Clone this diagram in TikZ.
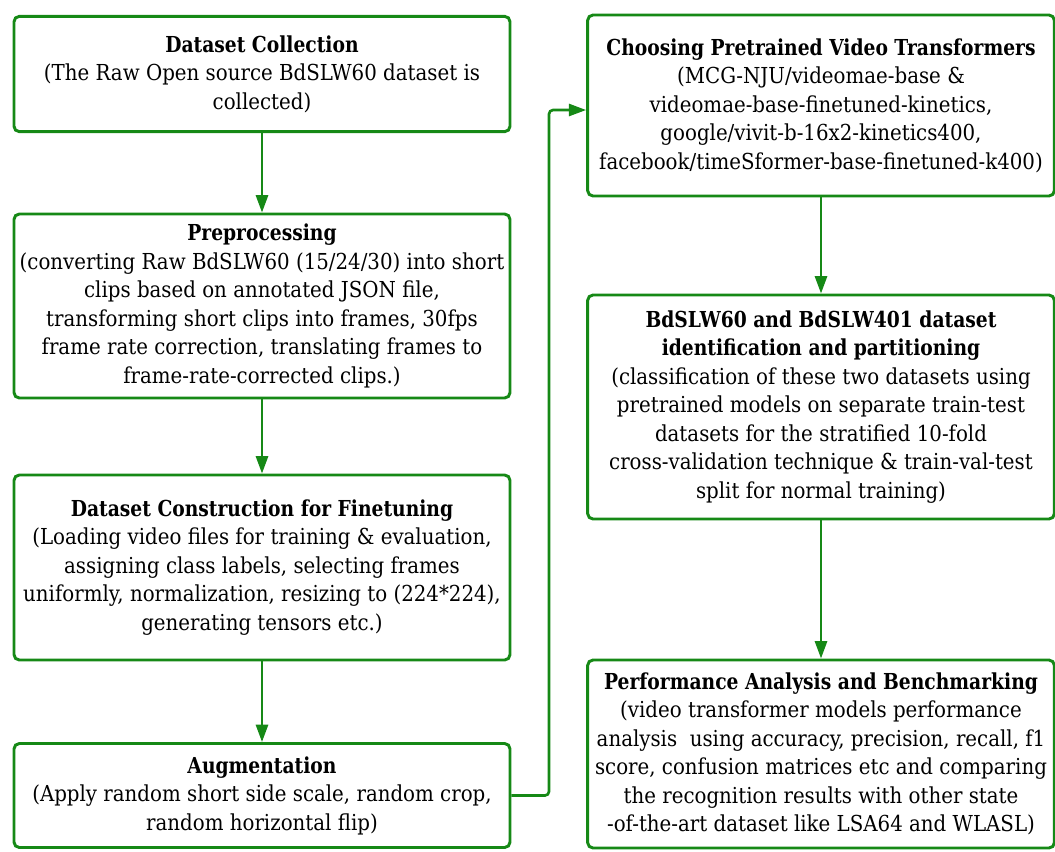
\documentclass[tikz,border=0pt]{standalone}
\usepackage{fontspec}
\setmainfont{DejaVu Serif}[FakeStretch=0.9,BoldFeatures={FakeStretch=0.85}]
\usetikzlibrary{arrows.meta}
\definecolor{flowgreen}{RGB}{22,137,22}

\begin{document}
\begin{tikzpicture}[x=0.75pt,y=-0.75pt,
  stage/.style={draw=flowgreen, line width=2.2pt, rounded corners=4pt, fill=white,
    align=center, inner sep=0pt, font=\fontsize{16.5}{21.4}\selectfont},
  leftstage/.style={stage, minimum width=372pt},
  rightstage/.style={stage, minimum width=350pt},
  flow/.style={draw=flowgreen, line width=2pt, rounded corners=3pt,
    -{Triangle[length=13pt,width=9pt]}}]
\useasboundingbox (0,0) rectangle (1055,851);
% Left column
\node[leftstage, minimum height=86.5pt] (collect) at (262,74)
  {\textbf{Dataset Collection}\\(The Raw Open source BdSLW60 dataset is\\collected)};
\node[leftstage, minimum height=138pt] (prep) at (262,306)
  {\textbf{Preprocessing}\\(converting Raw BdSLW60 (15/24/30) into short\\clips based on annotated JSON file,\\transforming short clips into frames, 30fps\\frame rate correction, translating frames to\\frame-rate-corrected clips.)};
\node[leftstage, minimum height=138.75pt] (construct) at (262,567.5)
  {\textbf{Dataset Construction for Finetuning}\\(Loading video files for training \& evaluation,\\assigning class labels, selecting frames\\uniformly, normalization, resizing to (224*224),\\generating tensors etc.)};
\node[leftstage, minimum height=78pt] (augment) at (262,795.5)
  {\textbf{Augmentation}\\(Apply random short side scale, random crop,\\random horizontal flip)};
% Right column
\node[rightstage, minimum height=135.75pt] (choose) at (821,105.5)
  {\textbf{Choosing Pretrained Video Transformers}\\(MCG-NJU/videomae-base \&\\videomae-base-finetuned-kinetics,\\google/vivit-b-16x2-kinetics400,\\facebook/timeSformer-base-finetuned-k400)};
\node[rightstage, minimum height=168pt] (partition) at (821,407)
  {\textbf{BdSLW60 and BdSLW401 dataset}\\\textbf{identification and partitioning}\\(classification of these two datasets using\\pretrained models on separate train-test\\datasets for the stratified 10-fold\\cross-validation technique \& train-val-test\\split for normal training)};
\node[rightstage, minimum height=141pt] (bench) at (821,754)
  {\textbf{Performance Analysis and Benchmarking}\\(video transformer models performance\\analysis\ \ using accuracy, precision, recall, f1\\score, confusion matrices etc and comparing\\the recognition results with other state\\-of-the-art dataset like LSA64 and WLASL)};
% Connectors
\draw[flow] (collect) -- (prep);
\draw[flow] (prep) -- (construct);
\draw[flow] (construct) -- (augment);
\coordinate (turn) at (549,110);
\coordinate (entry) at (choose.west |- turn);
\draw[flow] (augment.east) -- (augment.east -| turn) -- (turn) -- (entry);
\draw[flow] (choose) -- (partition);
\draw[flow] (partition) -- (bench);
\end{tikzpicture}
\end{document}
